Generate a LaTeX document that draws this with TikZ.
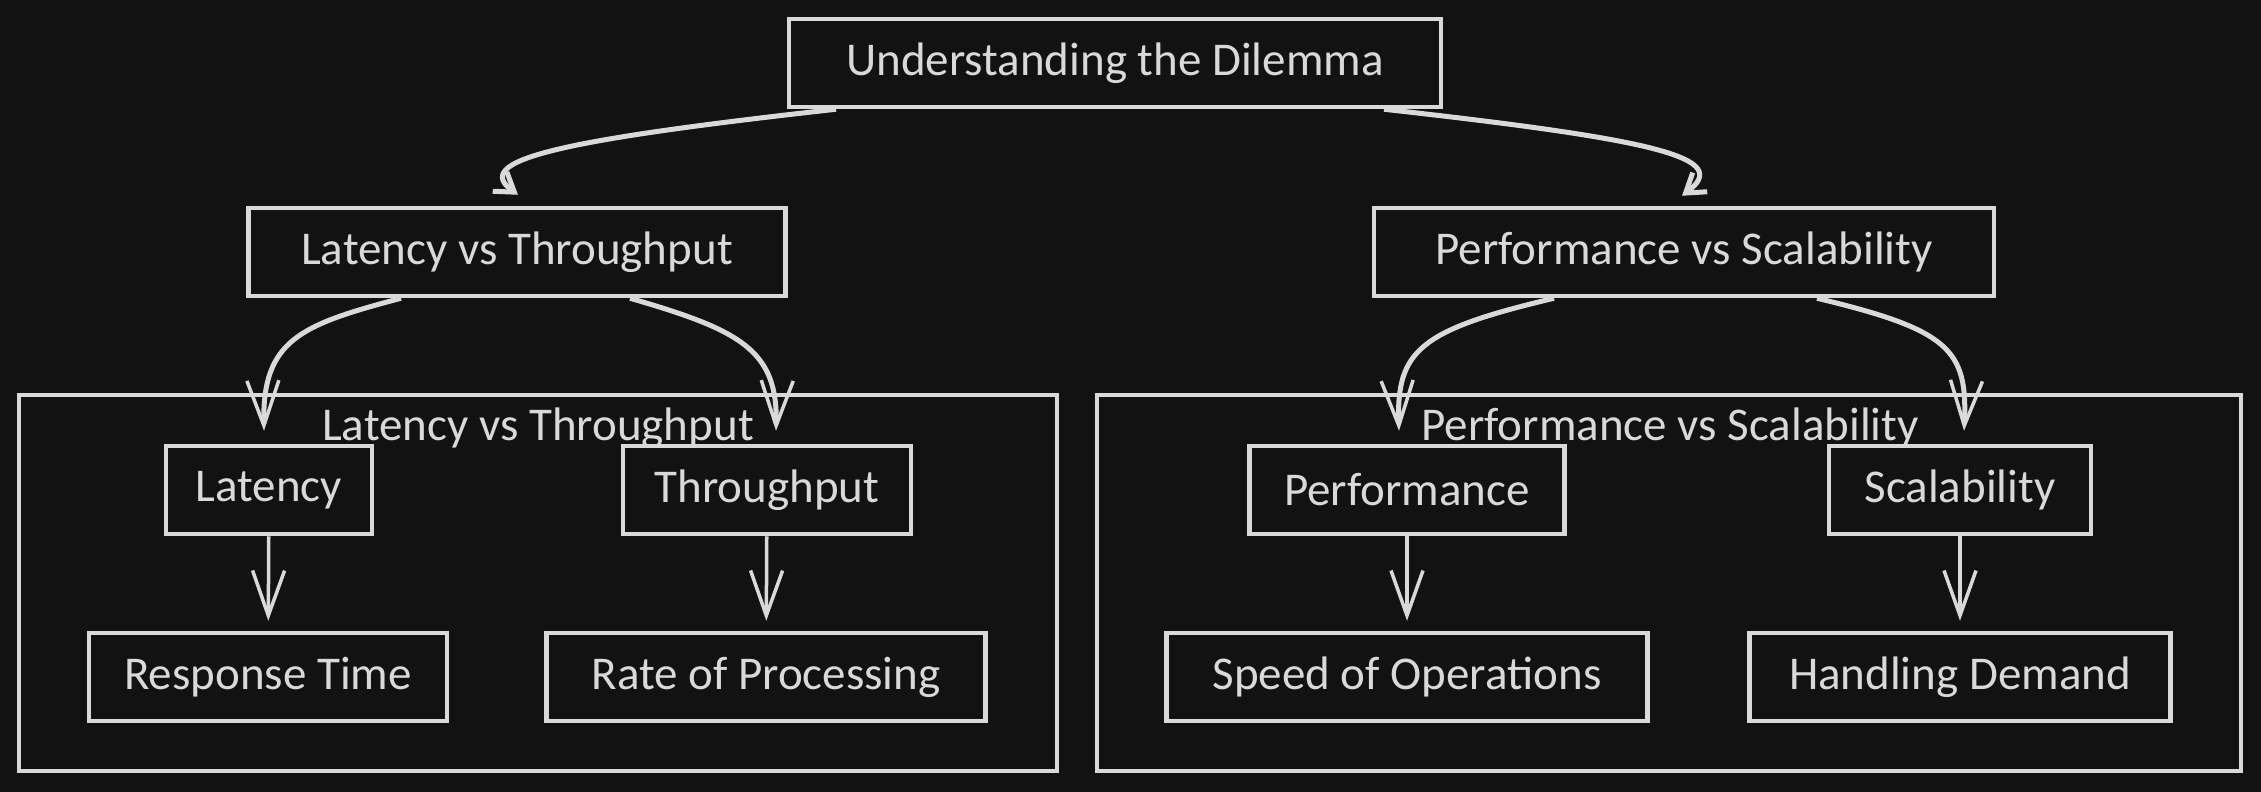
\documentclass[tikz,border=0pt]{standalone}
\usepackage{fontspec}
\setmainfont{Carlito}
\usetikzlibrary{arrows.meta}

\definecolor{bgdark}{HTML}{121212}
\definecolor{chalk}{HTML}{D9D9D9}

\tikzset{
  box/.style={draw=chalk,line width=4.5pt,text=chalk,minimum height=88pt,inner sep=0pt,font=\fontsize{47}{56}\selectfont},
  group/.style={draw=chalk,line width=4pt,inner sep=0pt},
  grouplabel/.style={text=chalk,inner sep=0pt,font=\fontsize{47}{56}\selectfont},
  link/.style={draw=chalk,line width=5pt,-{Straight Barb[length=45pt,width=32pt,line width=3.5pt]}},
  toplink/.style={draw=chalk,line width=5pt,-{Straight Barb[length=18pt,width=24pt,line width=5pt]}},
}

\begin{document}
\begin{tikzpicture}[x=1pt,y=-1pt]
  %background
  \fill[bgdark] (0,0) rectangle (2261,792);
  \useasboundingbox (0,0) rectangle (2261,792);

  %groups
  \node[group,minimum width=1038pt,minimum height=376pt] (ltgroup) at (538,583) {};
  \node[group,minimum width=1144pt,minimum height=376pt] (psgroup) at (1669,583) {};
  \node[grouplabel] (ltlabel) at (538,428) {Latency vs Throughput};
  \node[grouplabel] (pslabel) at (1670,428) {Performance vs Scalability};

  %boxes
  \node[box,minimum width=652pt] (dilemma) at (1115,63) {Understanding the Dilemma};
  \node[box,minimum width=537pt] (ltbox) at (517,252) {Latency vs Throughput};
  \node[box,minimum width=620pt] (psbox) at (1684,252) {Performance vs Scalability};
  \node[box,minimum width=206pt] (latency) at (269,490) {Latency};
  \node[box,minimum width=288pt] (throughput) at (767,490) {Throughput};
  \node[box,minimum width=358pt] (response) at (268,677) {Response Time};
  \node[box,minimum width=439pt] (rate) at (766,677) {Rate of Processing};
  \node[box,minimum width=315pt] (perf) at (1407,490) {Performance};
  \node[box,minimum width=262pt] (scal) at (1960,490) {Scalability};
  \node[box,minimum width=481pt] (speed) at (1407,677) {Speed of Operations};
  \node[box,minimum width=421pt] (demand) at (1960,677) {Handling Demand};

  %curved arrows
  \draw[toplink] ([xshift=-279pt]dilemma.south) .. controls (560,140) and (470,160) .. ([xshift=1pt,yshift=11pt]ltbox.north);
  \draw[toplink] ([xshift=269pt]dilemma.south) .. controls (1660,140) and (1732,158) .. ([xshift=-2pt,yshift=10pt]psbox.north);
  \draw[link] ([xshift=-116pt]ltbox.south) .. controls (300,325) and (262,340) .. ([xshift=-5pt,yshift=13pt]latency.north);
  \draw[link] ([xshift=113pt]ltbox.south) .. controls (740,330) and (778,350) .. ([xshift=9pt,yshift=13pt]throughput.north);
  \draw[link] ([xshift=-130pt]psbox.south) .. controls (1420,330) and (1396,350) .. ([xshift=-8pt,yshift=13pt]perf.north);
  \draw[link] ([xshift=133pt]psbox.south) .. controls (1950,330) and (1968,350) .. ([xshift=4pt,yshift=13pt]scal.north);

  %straight arrows
  \draw[link,line width=3.5pt,shorten >=10pt] (latency) -- (response);
  \draw[link,line width=3.5pt,shorten >=10pt] (throughput) -- (rate);
  \draw[link,line width=3.5pt,shorten >=10pt] (perf) -- (speed);
  \draw[link,line width=3.5pt,shorten >=10pt] (scal) -- (demand);
\end{tikzpicture}
\end{document}
